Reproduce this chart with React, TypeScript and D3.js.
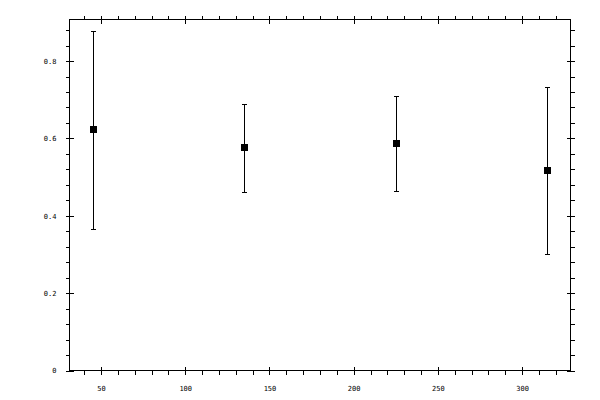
import { useEffect, useRef } from "react";
import * as d3 from "d3";

const xs = [45, 135, 225, 315];
const means = [0.624, 0.577, 0.587, 0.518];
const lows = [0.367, 0.462, 0.463, 0.3];
const highs = [0.877, 0.688, 0.711, 0.732];

const xMajor = [50, 100, 150, 200, 250, 300];
const xMinor = d3.range(40, 321, 10);
const yMajor = [0, 0.2, 0.4, 0.6, 0.8];
const yMinor = d3.range(0, 0.9, 0.04);

export default function App() {
  const svgRef = useRef<SVGSVGElement>(null);

  useEffect(() => {
    if (!svgRef.current) return;
    const svg = d3.select(svgRef.current);
    svg.selectAll("*").remove();

    const left = 69.5, right = 570.5, top = 19.5, bottom = 370.5;
    const x = d3.scaleLinear().domain([31.3, 328.7]).range([left, right]);
    const y = d3.scaleLinear().domain([0, 0.9075]).range([bottom, top]);

    const fmt = (d: d3.NumberValue) => String(+(+d).toFixed(1));

    // frame
    svg.append("rect")
      .attr("x", left).attr("y", top)
      .attr("width", right - left).attr("height", bottom - top)
      .attr("fill", "none").attr("stroke", "#000");

    const style = (g: d3.Selection<SVGGElement, unknown, null, undefined>) => {
      g.select(".domain").remove();
      g.selectAll("line").attr("stroke", "#000");
      g.selectAll("text")
        .attr("fill", "#000")
        .attr("font-family", "DejaVu Sans Mono, monospace")
        .attr("font-size", 7);
    };

    // bottom: outward minors + majors, inward majors, labels
    svg.append("g").attr("transform", `translate(0,${bottom})`)
      .call(d3.axisBottom(x).tickValues(xMinor).tickSize(4).tickFormat(() => ""))
      .call(style);
    svg.append("g").attr("transform", `translate(0,${bottom})`)
      .call(d3.axisBottom(x).tickValues(xMajor).tickSize(-4).tickFormat(() => ""))
      .call(style);
    svg.append("g").attr("transform", `translate(0,${bottom})`)
      .call(d3.axisBottom(x).tickValues(xMajor).tickSize(4).tickPadding(12).tickFormat(d3.format("d")))
      .call(style);

    // top
    svg.append("g").attr("transform", `translate(0,${top})`)
      .call(d3.axisTop(x).tickValues(xMinor).tickSize(4).tickFormat(() => ""))
      .call(style);
    svg.append("g").attr("transform", `translate(0,${top})`)
      .call(d3.axisTop(x).tickValues(xMajor).tickSize(-4).tickFormat(() => ""))
      .call(style);

    // left
    svg.append("g").attr("transform", `translate(${left},0)`)
      .call(d3.axisLeft(y).tickValues(yMinor).tickSize(4).tickFormat(() => ""))
      .call(style);
    svg.append("g").attr("transform", `translate(${left},0)`)
      .call(d3.axisLeft(y).tickValues(yMajor).tickSize(-4).tickFormat(() => ""))
      .call(style);
    svg.append("g").attr("transform", `translate(${left},0)`)
      .call(d3.axisLeft(y).tickValues(yMajor).tickSize(4).tickPadding(9).tickFormat(fmt))
      .call(style);

    // right
    svg.append("g").attr("transform", `translate(${right},0)`)
      .call(d3.axisRight(y).tickValues(yMinor).tickSize(4).tickFormat(() => ""))
      .call(style);
    svg.append("g").attr("transform", `translate(${right},0)`)
      .call(d3.axisRight(y).tickValues(yMajor).tickSize(-4).tickFormat(() => ""))
      .call(style);

    // error bars
    const data = xs.map((v, i) => ({ x: v, m: means[i], lo: lows[i], hi: highs[i] }));
    const g = svg.append("g").attr("stroke", "#000");
    const px = (v: number) => Math.round(x(v)) + 0.5;
    const py = (v: number) => Math.round(y(v)) + 0.5;

    g.selectAll("line.bar").data(data).join("line")
      .attr("class", "bar")
      .attr("x1", (d) => px(d.x)).attr("x2", (d) => px(d.x))
      .attr("y1", (d) => py(d.lo)).attr("y2", (d) => py(d.hi));
    g.selectAll("line.capHi").data(data).join("line")
      .attr("class", "capHi")
      .attr("x1", (d) => px(d.x) - 2.5).attr("x2", (d) => px(d.x) + 2.5)
      .attr("y1", (d) => py(d.hi)).attr("y2", (d) => py(d.hi));
    g.selectAll("line.capLo").data(data).join("line")
      .attr("class", "capLo")
      .attr("x1", (d) => px(d.x) - 2.5).attr("x2", (d) => px(d.x) + 2.5)
      .attr("y1", (d) => py(d.lo)).attr("y2", (d) => py(d.lo));

    svg.append("g").selectAll("rect").data(data).join("rect")
      .attr("x", (d) => Math.round(x(d.x)) - 3)
      .attr("y", (d) => Math.round(y(d.m)) - 3)
      .attr("width", 7).attr("height", 7)
      .attr("fill", "#000");
  }, []);

  return (
    <svg
      ref={svgRef}
      width={600}
      height={400}
      shapeRendering="crispEdges"
      style={{ position: "absolute", left: 0, top: 0, background: "#fff" }}
    />
  );
}
